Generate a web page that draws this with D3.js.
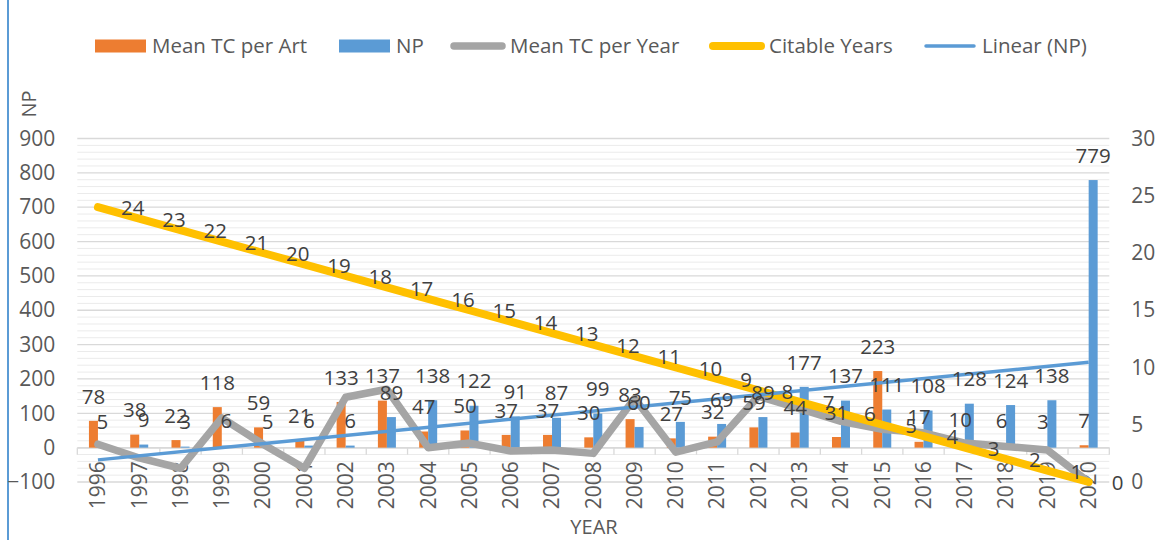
<!DOCTYPE html>
<html>
<head>
<meta charset="utf-8">
<script src="https://cdn.jsdelivr.net/npm/d3@7"></script>
<style>
  body { margin: 0; background: #fff; }
  svg { display: block; font-family: "Open Sans", sans-serif; }
</style>
</head>
<body>
<svg width="1156" height="540"></svg>
<script>
// values
var years = ['1996','1997','1998','1999','2000','2001','2002','2003','2004','2005','2006','2007','2008',
             '2009','2010','2011','2012','2013','2014','2015','2016','2017','2018','2019','2020'];
var meanTcPerArt = [78,38,22,118,59,21,133,137,47,50,37,37,30,83,27,32,59,44,31,223,17,10,6,3,7];
var np = [5,9,3,6,5,6,6,89,138,122,91,87,99,60,75,69,89,177,137,111,108,128,124,138,779];
var meanTcPerYear = [3.3,2.1,1.2,5.6,3.3,1.2,7.4,8.1,3.0,3.4,2.7,2.8,2.5,7.3,2.6,3.5,7.5,6.4,5.3,4.6,4.3,3.4,3.1,2.8,0];
var citableYears = [24,23,22,21,20,19,18,17,16,15,14,13,12,11,10,9,8,7,6,5,4,3,2,1,0];
var leftTicks = [-100,0,100,200,300,400,500,600,700,800,900];
var rightTicks = [0,5,10,15,20,25,30];
var legendNames = ['Mean TC per Art','NP','Mean TC per Year','Citable Years','Linear (NP)'];

var colors = {art: '#ED7D31', np: '#5B9BD5', perYear: '#A5A5A5', citable: '#FFC000', trend: '#5B9BD5'};

var svg = d3.select('svg');

var x = d3.scaleBand().domain(years).range([77.3, 1109.3]);
var yL = d3.scaleLinear().domain([-100, 900]).range([482, 138.5]);
var yR = d3.scaleLinear().domain([0, 30]).range([482, 138.5]);
var cx = function(d, i) { return x(years[i]) + x.bandwidth() / 2; };
var barW = 9;

// left border of the chart area
svg.append('line')
    .attr('x1', 8).attr('x2', 8).attr('y1', 0).attr('y2', 540)
    .style('stroke', '#5B9BD5').style('stroke-width', 2);

// gridlines, minor every 20 and major every 100
var grid = svg.append('g');
grid.selectAll('.minor')
    .data(yL.ticks(50).filter(function(v) { return v % 100 !== 0; }))
    .enter().append('line')
    .attr('x1', 77.3).attr('x2', 1109.3)
    .attr('y1', function(v) { return yL(v); }).attr('y2', function(v) { return yL(v); })
    .style('stroke', '#ebebeb').style('stroke-width', 1);
grid.selectAll('.major')
    .data(leftTicks)
    .enter().append('line')
    .attr('x1', 77.3).attr('x2', 1109.3)
    .attr('y1', function(v) { return yL(v); }).attr('y2', function(v) { return yL(v); })
    .style('stroke', '#d9d9d9').style('stroke-width', 1.3);

// left axis
var axL = svg.append('g')
    .attr('transform', 'translate(77.3,0)')
    .call(d3.axisLeft(yL).tickValues(leftTicks).tickSize(0).tickPadding(22));
axL.select('.domain').remove();
axL.selectAll('text').style('font-size', '21px').style('fill', '#595959').style('font-family', '"Open Sans", sans-serif');

// right axis
var axR = svg.append('g')
    .attr('transform', 'translate(1109.3,0)')
    .call(d3.axisRight(yR).tickValues(rightTicks).tickSize(0).tickPadding(22));
axR.select('.domain').remove();
axR.selectAll('text').style('font-size', '21px').style('fill', '#595959').style('font-family', '"Open Sans", sans-serif');

// category axis at 0
var axB = svg.append('g')
    .attr('transform', 'translate(0,' + yL(0) + ')')
    .call(d3.axisBottom(x).tickSize(0));
axB.select('.domain').style('stroke', '#d9d9d9').style('stroke-width', 1.3);
axB.selectAll('text')
    .attr('transform', 'rotate(-90)')
    .attr('x', -13.5).attr('y', 0).attr('dy', '0.35em')
    .style('text-anchor', 'end')
    .style('font-size', '21px').style('fill', '#595959').style('font-family', '"Open Sans", sans-serif');
axB.selectAll('.cat-tick')
    .data(years.concat(['end']))
    .enter().append('line')
    .attr('x1', function(d, i) { return x.range()[0] + i * x.step(); })
    .attr('x2', function(d, i) { return x.range()[0] + i * x.step(); })
    .attr('y1', 0).attr('y2', 7)
    .style('stroke', '#d9d9d9').style('stroke-width', 1.3);

// bars
svg.append('g').selectAll('rect')
    .data(meanTcPerArt)
    .enter().append('rect')
    .attr('x', function(d, i) { return cx(d, i) - barW; })
    .attr('y', function(d) { return yL(d); })
    .attr('width', barW)
    .attr('height', function(d) { return yL(0) - yL(d); })
    .style('fill', colors.art);

svg.append('g').selectAll('rect')
    .data(np)
    .enter().append('rect')
    .attr('x', function(d, i) { return cx(d, i); })
    .attr('y', function(d) { return yL(d); })
    .attr('width', barW)
    .attr('height', function(d) { return yL(0) - yL(d); })
    .style('fill', colors.np);

// lines on the secondary axis
var lineR = d3.line().x(cx).y(function(d) { return yR(d); });

svg.append('path')
    .datum(meanTcPerYear)
    .attr('d', lineR)
    .style('fill', 'none').style('stroke', colors.perYear)
    .style('stroke-width', 7.5).style('stroke-linejoin', 'round').style('stroke-linecap', 'round');

svg.append('path')
    .datum(citableYears)
    .attr('d', lineR)
    .style('fill', 'none').style('stroke', colors.citable)
    .style('stroke-width', 8).style('stroke-linejoin', 'round').style('stroke-linecap', 'round');

// linear trend of NP
var n = np.length;
var mx = d3.mean(np, function(d, i) { return i; });
var my = d3.mean(np);
var sxy = d3.sum(np, function(d, i) { return (i - mx) * (d - my); });
var sxx = d3.sum(np, function(d, i) { return (i - mx) * (i - mx); });
var slope = sxy / sxx;
var trend = [0, n - 1].map(function(i) { return {i: i, v: my + slope * (i - mx)}; });

svg.append('path')
    .datum(trend)
    .attr('d', d3.line()
        .x(function(d) { return x(years[d.i]) + x.bandwidth() / 2; })
        .y(function(d) { return yL(d.v); }))
    .style('fill', 'none').style('stroke', colors.trend).style('stroke-width', 3.5);

// data labels
var labels = svg.append('g')
    .style('font-size', '20.5px').style('fill', '#404040');

labels.selectAll('.lab-art')
    .data(meanTcPerArt)
    .enter().append('text')
    .attr('x', function(d, i) { return cx(d, i) - barW / 2; })
    .attr('y', function(d) { return yL(d) - 24.5; })
    .attr('dy', '0.35em')
    .style('text-anchor', 'middle')
    .text(function(d) { return d; });

labels.selectAll('.lab-np')
    .data(np)
    .enter().append('text')
    .attr('x', function(d, i) { return cx(d, i) + barW / 2; })
    .attr('y', function(d) { return yL(d) - 24.5; })
    .attr('dy', '0.35em')
    .style('text-anchor', 'middle')
    .text(function(d) { return d; });

labels.selectAll('.lab-cit')
    .data(citableYears)
    .enter().append('text')
    .attr('x', function(d, i) { return cx(d, i) + 23; })
    .attr('y', function(d) { return yR(d) + 1; })
    .attr('dy', '0.35em')
    .text(function(d) { return d; });

// axis titles
svg.append('text')
    .attr('x', 594).attr('y', 527).attr('dy', '0.35em')
    .style('text-anchor', 'middle').style('font-size', '20px').style('fill', '#595959')
    .text('YEAR');
svg.append('text')
    .attr('transform', 'translate(29,104) rotate(-90)')
    .attr('dy', '0.35em')
    .style('text-anchor', 'middle').style('font-size', '20px').style('fill', '#595959')
    .text('NP');

// legend
var legendX = [95, 339, 450, 709, 922];
var legendType = ['rect', 'rect', 'line', 'line', 'line'];
var legendColor = [colors.art, colors.np, colors.perYear, colors.citable, colors.trend];
var legendWidth = [0, 0, 7.5, 8, 3.5];
var legend = svg.append('g');
legendNames.forEach(function(name, i) {
  var g = legend.append('g').attr('transform', 'translate(' + legendX[i] + ',46)');
  if (legendType[i] === 'rect') {
    g.append('rect').attr('x', 0).attr('y', -6.5).attr('width', 51).attr('height', 13)
        .style('fill', legendColor[i]);
  } else {
    g.append('line').attr('x1', 4).attr('x2', 52).attr('y1', 0).attr('y2', 0)
        .style('stroke', legendColor[i]).style('stroke-width', legendWidth[i])
        .style('stroke-linecap', 'round');
  }
  g.append('text')
      .attr('x', (legendType[i] === 'rect' ? 57 : 60)).attr('y', 0).attr('dy', '0.35em')
      .style('font-size', '20.5px').style('fill', '#595959')
      .text(name);
});
</script>
</body>
</html>
